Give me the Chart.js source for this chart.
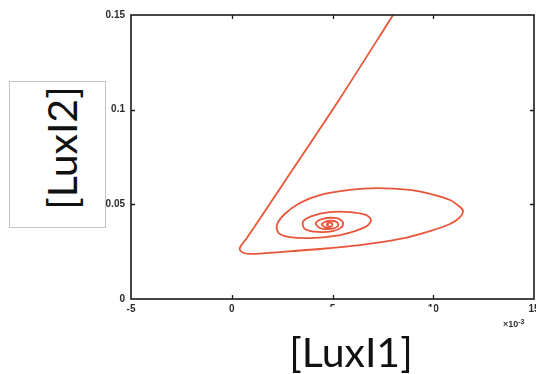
<!DOCTYPE html>
<html>
<head>
<meta charset="utf-8">
<script src="https://cdn.jsdelivr.net/npm/chart.js@4/dist/chart.umd.min.js"></script>
<style>
  html, body { margin: 0; padding: 0; background: #fff; width: 536px; height: 374px; overflow: hidden; }
  #wrap { position: relative; width: 536px; height: 374px; }
  #plot { position: absolute; left: 0; top: 0; }
  .ybox { position: absolute; left: 9px; top: 81px; width: 95px; height: 145px; border: 1px solid #c4c4c4; background: #fff; }
  .ylab { position: absolute; left: 61px; top: 148px; transform: translate(-50%, -50%) rotate(-90deg);
          font: 41px Lato, "Open Sans", sans-serif; line-height: 1; white-space: nowrap; color: #111; }
  .xbox { position: absolute; left: 296px; top: 307px; width: 138px; height: 67px; background: #fff; }
  .xlab { position: absolute; left: 351px; top: 351px; transform: translate(-50%, -50%);
          font: 41px Lato, "Open Sans", sans-serif; line-height: 1; white-space: nowrap; color: #111; }
  .exp { position: absolute; left: 503px; top: 319px; font: bold 9px "Liberation Sans", Arial, sans-serif; color: #333; white-space: nowrap; }
  .exp sup { font-size: 7px; position: relative; top: -1px; vertical-align: top; }
</style>
</head>
<body>
<div id="wrap">
  <canvas id="plot" width="536" height="374"></canvas>
  <div class="ybox"></div>
  <div class="ylab">[LuxI2]</div>
  <div class="xbox"></div>
  <div class="xlab">[LuxI1]</div>
  <div class="exp">×10<sup>-3</sup></div>
</div>
<script>
// Phase-plane trajectory of [LuxI1] vs [LuxI2], spiralling into the steady state
const luxI1 = [
  0.00800, 0.00532, 0.00248, 0.00075, 0.00045,
  0.00040, 0.00060, 0.00099, 0.00238, 0.00437, 0.00636, 0.00835, 0.00984, 0.01083, 0.01133,
  0.01148, 0.01133, 0.01083, 0.01008, 0.00884, 0.00720, 0.00586, 0.00437, 0.00338, 0.00263,
  0.00224, 0.00233, 0.00288, 0.00387, 0.00512, 0.00611, 0.00671, 0.00691, 0.00666, 0.00586,
  0.00487, 0.00397, 0.00353, 0.00363, 0.00427, 0.00502, 0.00546, 0.00551, 0.00512, 0.00447,
  0.00417, 0.00437, 0.00487, 0.00527, 0.00522, 0.00477, 0.00447, 0.00462, 0.00497, 0.00497,
  0.00477, 0.00472, 0.00482
];
const luxI2 = [
  0.1499, 0.1051, 0.0597, 0.0322, 0.0280,
  0.0259, 0.0243, 0.0238, 0.0248, 0.0264, 0.0285, 0.0317, 0.0359, 0.0396, 0.0433,
  0.0465, 0.0486, 0.0523, 0.0549, 0.0576, 0.0586, 0.0576, 0.0549, 0.0507, 0.0449,
  0.0391, 0.0348, 0.0327, 0.0322, 0.0333, 0.0359, 0.0385, 0.0417, 0.0444, 0.0459,
  0.0459, 0.0438, 0.0407, 0.0370, 0.0354, 0.0359, 0.0380, 0.0407, 0.0428, 0.0422,
  0.0401, 0.0375, 0.0370, 0.0385, 0.0407, 0.0412, 0.0396, 0.0380, 0.0385, 0.0401,
  0.0401, 0.0391, 0.0391
];
const xTicks = [-0.005, 0, 0.005, 0.01, 0.015];
const yTicks = [0, 0.05, 0.1, 0.15];

const points = luxI1.map((v, i) => ({ x: v, y: luxI2[i] }));

// Boxed frame with short inward tick marks on all four sides
const framePlugin = {
  id: 'frame',
  afterDatasetsDraw(chart) {
    const { ctx, chartArea: a, scales: { x, y } } = chart;
    const len = 4;
    ctx.save();
    ctx.strokeStyle = '#1a1a1a';
    ctx.lineWidth = 1.6;
    ctx.strokeRect(a.left, a.top, a.right - a.left, a.bottom - a.top);
    ctx.lineWidth = 1.3;
    ctx.beginPath();
    xTicks.slice(1, -1).forEach(v => {
      const px = Math.round(x.getPixelForValue(v)) + 0.5;
      ctx.moveTo(px, a.bottom); ctx.lineTo(px, a.bottom - len);
      ctx.moveTo(px, a.top); ctx.lineTo(px, a.top + len);
    });
    yTicks.slice(1, -1).forEach(v => {
      const py = Math.round(y.getPixelForValue(v)) + 0.5;
      ctx.moveTo(a.left, py); ctx.lineTo(a.left + len, py);
      ctx.moveTo(a.right, py); ctx.lineTo(a.right - len, py);
    });
    ctx.stroke();
    ctx.restore();
  }
};

const tickFont = { family: '"Liberation Sans", Arial, sans-serif', size: 10, weight: 'bold' };

new Chart(document.getElementById('plot'), {
  type: 'scatter',
  data: {
    datasets: [{
      data: points,
      showLine: true,
      borderColor: '#e8553a',
      borderWidth: 1.8,
      pointRadius: 0,
      tension: 0.3,
      fill: false
    }]
  },
  options: {
    responsive: false,
    animation: false,
    devicePixelRatio: 1,
    layout: { padding: { left: 0, top: 15, right: 2, bottom: 0 } },
    plugins: { legend: { display: false }, tooltip: { enabled: false } },
    scales: {
      x: {
        type: 'linear',
        min: -0.005, max: 0.015,
        afterBuildTicks: s => { s.ticks = xTicks.map(v => ({ value: v })); },
        afterFit: s => { s.height = 75; s.paddingLeft = 0; s.paddingRight = 0; },
        grid: { display: false, drawTicks: false },
        border: { display: false },
        ticks: {
          font: tickFont, color: '#2a2a2a', padding: 4, maxRotation: 0, autoSkip: false,
          callback: v => String(Math.round(v * 1000))
        }
      },
      y: {
        type: 'linear',
        min: 0, max: 0.15,
        afterBuildTicks: s => { s.ticks = yTicks.map(v => ({ value: v })); },
        afterFit: s => { s.width = 131; s.paddingTop = 0; s.paddingBottom = 0; },
        grid: { display: false, drawTicks: false },
        border: { display: false },
        ticks: {
          font: tickFont, color: '#2a2a2a', padding: 6, autoSkip: false,
          callback: v => String(+Number(v).toFixed(2))
        }
      }
    }
  },
  plugins: [framePlugin]
});
</script>
</body>
</html>
